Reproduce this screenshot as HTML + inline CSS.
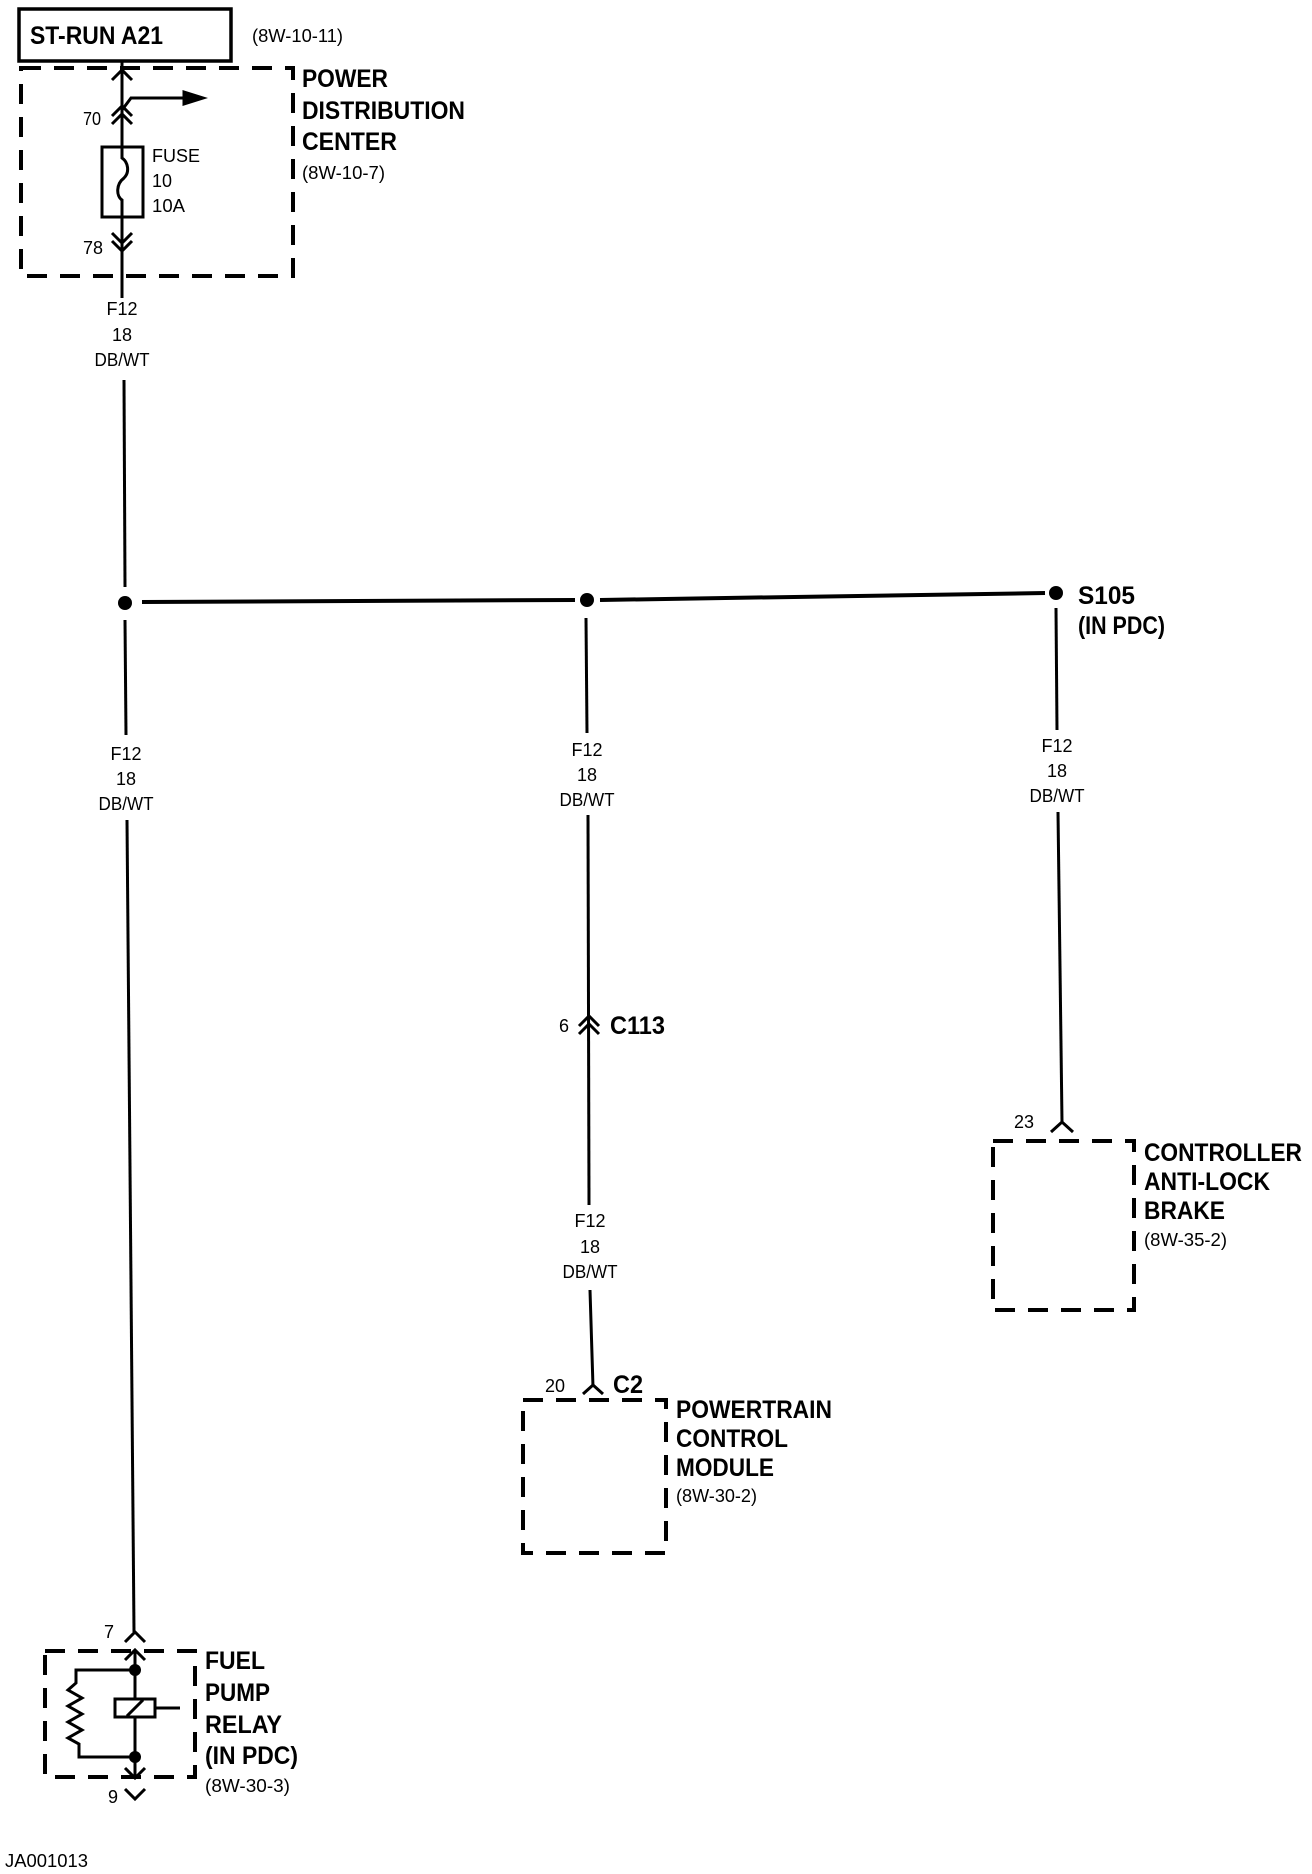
<!DOCTYPE html>
<html><head><meta charset="utf-8"><style>
html,body{margin:0;padding:0;background:#fff;}
svg{display:block;}
text{font-family:"Liberation Sans",sans-serif;fill:#000;}
.b{font-weight:bold;font-size:25px;}
.s{font-size:18px;}
</style></head><body>
<svg width="1312" height="1874" viewBox="0 0 1312 1874" xmlns="http://www.w3.org/2000/svg">
<g stroke="#000" fill="none" stroke-width="3">
<rect x="19" y="9" width="212" height="52" stroke-width="3.5"/>
<rect x="21" y="68" width="272" height="208" stroke-width="4" stroke-dasharray="20,13"/>
<line x1="122" y1="62" x2="122" y2="147"/>
<polyline points="112,80 122,70 132,80"/>
<polyline points="112,116 122,106 132,116"/>
<polyline points="112,124 122,114 132,124"/>
<polyline points="122,110 131,98 186,98"/>
<polygon points="184,92 203,98 184,104" fill="#000"/>
<rect x="102" y="147" width="41" height="70"/>
<path d="M122,147 L122,158 C128,162 130,172 124,178 C116,184 116,196 122,200 L122,217"/>
<line x1="122" y1="217" x2="122" y2="298"/>
<polyline points="112,233 122,243 132,233"/>
<polyline points="112,241 122,251 132,241"/>
<line x1="124" y1="380" x2="125" y2="587"/>
<line x1="125" y1="620" x2="126" y2="735"/>
<line x1="127" y1="820" x2="134" y2="1632"/>
<line x1="142" y1="602" x2="575" y2="600" stroke-width="4"/>
<line x1="600" y1="600" x2="1045" y2="593" stroke-width="4"/>
<line x1="586" y1="618" x2="587" y2="733"/>
<line x1="588" y1="815" x2="589" y2="1205"/>
<polyline points="579,1026 589,1016 599,1026"/>
<polyline points="579,1034 589,1024 599,1034"/>
<line x1="590" y1="1290" x2="593" y2="1387"/>
<polyline points="583,1394 593,1385 603,1394"/>
<line x1="1056" y1="608" x2="1057" y2="730"/>
<line x1="1058" y1="812" x2="1062" y2="1122"/>
<polyline points="1051,1132 1062,1122 1073,1132"/>
<rect x="523" y="1400" width="143" height="153" stroke-width="4" stroke-dasharray="20,13"/>
<rect x="993" y="1141" width="141" height="169" stroke-width="4" stroke-dasharray="20,13"/>
<polyline points="125,1642 135,1632 145,1642"/>
<rect x="45" y="1651" width="150" height="126" stroke-width="4" stroke-dasharray="20,13"/>
<polyline points="125,1660 135,1650 145,1660"/>
<line x1="135" y1="1650" x2="135" y2="1777"/>
<polyline points="135,1670 76,1670 76,1683 68,1690 82,1698 68,1706 82,1714 68,1722 82,1730 68,1738 79,1744 79,1757 135,1757"/>
<rect x="115" y="1699" width="40" height="18" fill="#fff"/>
<line x1="127" y1="1716" x2="143" y2="1700"/>
<line x1="155" y1="1708" x2="180" y2="1708"/>
<polyline points="125,1768 135,1778 145,1768"/>
<polyline points="125,1789 135,1799 145,1789"/>
</g>
<g fill="#000">
<circle cx="125" cy="603" r="7"/>
<circle cx="587" cy="600" r="7"/>
<circle cx="1056" cy="593" r="7"/>
<circle cx="135" cy="1670" r="6"/>
<circle cx="135" cy="1757" r="6"/>
</g>
<text class="b" x="30" y="44" textLength="133" lengthAdjust="spacingAndGlyphs">ST-RUN A21</text>
<text class="s" x="252" y="42" textLength="91" lengthAdjust="spacingAndGlyphs">(8W-10-11)</text>
<text class="b" x="302" y="87" textLength="86" lengthAdjust="spacingAndGlyphs">POWER</text>
<text class="b" x="302" y="119" textLength="163" lengthAdjust="spacingAndGlyphs">DISTRIBUTION</text>
<text class="b" x="302" y="150" textLength="95" lengthAdjust="spacingAndGlyphs">CENTER</text>
<text class="s" x="302" y="179" textLength="83" lengthAdjust="spacingAndGlyphs">(8W-10-7)</text>
<text class="s" x="152" y="162" textLength="48" lengthAdjust="spacingAndGlyphs">FUSE</text>
<text class="s" x="152" y="187" textLength="20" lengthAdjust="spacingAndGlyphs">10</text>
<text class="s" x="152" y="212" textLength="33" lengthAdjust="spacingAndGlyphs">10A</text>
<text class="s" x="83" y="125" textLength="18" lengthAdjust="spacingAndGlyphs">70</text>
<text class="s" x="83" y="254" textLength="20" lengthAdjust="spacingAndGlyphs">78</text>
<g class="s" text-anchor="middle">
<text x="122" y="315">F12</text><text x="122" y="341">18</text><text x="122" y="366" textLength="55" lengthAdjust="spacingAndGlyphs">DB/WT</text>
<text x="126" y="760">F12</text><text x="126" y="785">18</text><text x="126" y="810" textLength="55" lengthAdjust="spacingAndGlyphs">DB/WT</text>
<text x="587" y="756">F12</text><text x="587" y="781">18</text><text x="587" y="806" textLength="55" lengthAdjust="spacingAndGlyphs">DB/WT</text>
<text x="1057" y="752">F12</text><text x="1057" y="777">18</text><text x="1057" y="802" textLength="55" lengthAdjust="spacingAndGlyphs">DB/WT</text>
<text x="590" y="1227">F12</text><text x="590" y="1253">18</text><text x="590" y="1278" textLength="55" lengthAdjust="spacingAndGlyphs">DB/WT</text>
</g>
<text class="b" x="1078" y="604" textLength="57" lengthAdjust="spacingAndGlyphs">S105</text>
<text class="b" x="1078" y="634" textLength="87" lengthAdjust="spacingAndGlyphs">(IN PDC)</text>
<text class="s" x="559" y="1032">6</text>
<text class="b" x="610" y="1034" textLength="55" lengthAdjust="spacingAndGlyphs">C113</text>
<text class="s" x="545" y="1392">20</text>
<text class="b" x="613" y="1393" textLength="30" lengthAdjust="spacingAndGlyphs">C2</text>
<text class="b" x="676" y="1418" textLength="156" lengthAdjust="spacingAndGlyphs">POWERTRAIN</text>
<text class="b" x="676" y="1447" textLength="112" lengthAdjust="spacingAndGlyphs">CONTROL</text>
<text class="b" x="676" y="1476" textLength="98" lengthAdjust="spacingAndGlyphs">MODULE</text>
<text class="s" x="676" y="1502" textLength="81" lengthAdjust="spacingAndGlyphs">(8W-30-2)</text>
<text class="s" x="1014" y="1128">23</text>
<text class="b" x="1144" y="1161" textLength="158" lengthAdjust="spacingAndGlyphs">CONTROLLER</text>
<text class="b" x="1144" y="1190" textLength="126" lengthAdjust="spacingAndGlyphs">ANTI-LOCK</text>
<text class="b" x="1144" y="1219" textLength="81" lengthAdjust="spacingAndGlyphs">BRAKE</text>
<text class="s" x="1144" y="1246" textLength="83" lengthAdjust="spacingAndGlyphs">(8W-35-2)</text>
<text class="s" x="104" y="1638">7</text>
<text class="s" x="108" y="1803">9</text>
<text class="b" x="205" y="1669" textLength="60" lengthAdjust="spacingAndGlyphs">FUEL</text>
<text class="b" x="205" y="1701" textLength="65" lengthAdjust="spacingAndGlyphs">PUMP</text>
<text class="b" x="205" y="1733" textLength="77" lengthAdjust="spacingAndGlyphs">RELAY</text>
<text class="b" x="205" y="1764" textLength="93" lengthAdjust="spacingAndGlyphs">(IN PDC)</text>
<text class="s" x="205" y="1792" textLength="85" lengthAdjust="spacingAndGlyphs">(8W-30-3)</text>
<text class="s" x="5" y="1867" textLength="83" lengthAdjust="spacingAndGlyphs">JA001013</text>
</svg>
</body></html>
